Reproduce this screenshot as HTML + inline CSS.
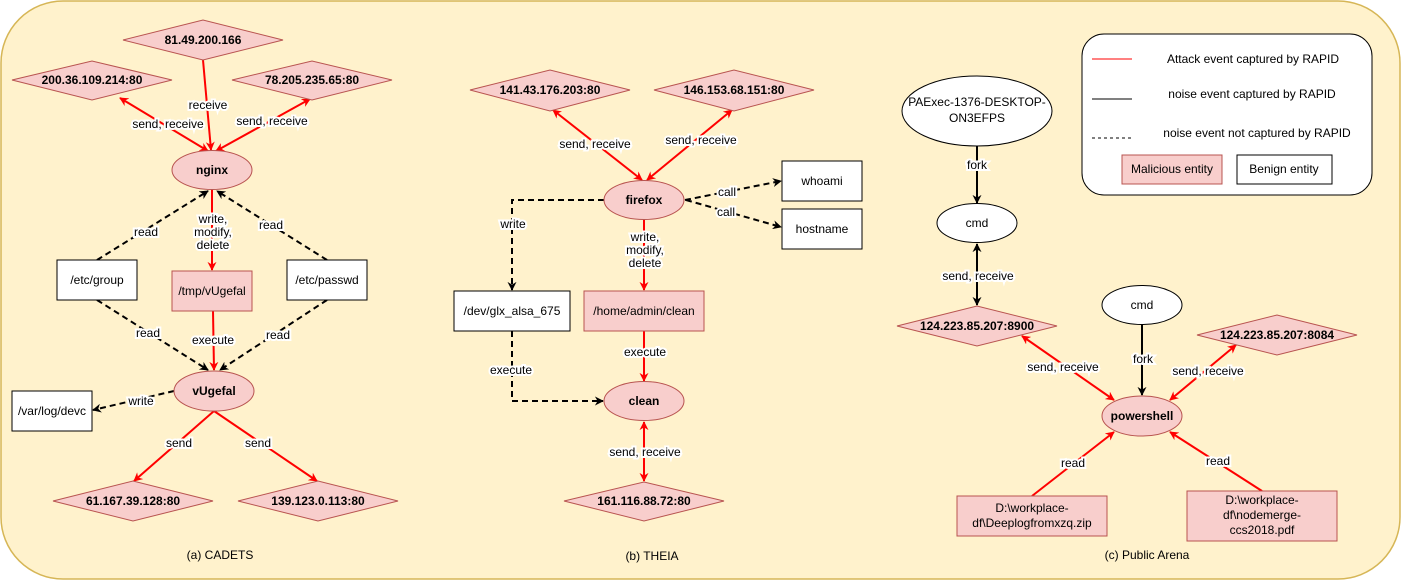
<!DOCTYPE html>
<html><head><meta charset="utf-8"><style>
html,body{margin:0;padding:0;background:#fff}
svg{display:block}
text{font-family:"Liberation Sans",sans-serif;font-size:12px;fill:#000}
.b{font-weight:bold}
.lbl{paint-order:stroke;stroke:#fff;stroke-width:4px;stroke-linejoin:miter}
</style></head><body>
<svg width="1402" height="582" viewBox="0 0 1402 582" xmlns="http://www.w3.org/2000/svg">
<defs>
<marker id="ar" viewBox="0 0 10 10" refX="9" refY="5" markerWidth="9" markerHeight="9" markerUnits="userSpaceOnUse" orient="auto-start-reverse"><path d="M0,0 L10,5 L0,10 L3,5 z" fill="#ff0000"/></marker>
<marker id="ak" viewBox="0 0 10 10" refX="9" refY="5" markerWidth="9" markerHeight="9" markerUnits="userSpaceOnUse" orient="auto-start-reverse"><path d="M0,0 L10,5 L0,10 L3,5 z" fill="#000"/></marker>
</defs>
<rect x="1" y="1" width="1399" height="578" rx="62" fill="#fff2cc" stroke="#d6b656" stroke-width="1.5"/>

<g stroke-width="2" fill="none">
<!-- CADETS edges -->
<line x1="203" y1="60" x2="211" y2="150" stroke="#f00" marker-end="url(#ar)"/>
<line x1="120" y1="98" x2="208" y2="151" stroke="#f00" marker-start="url(#ar)" marker-end="url(#ar)"/>
<line x1="310" y1="99" x2="216" y2="151" stroke="#f00" marker-start="url(#ar)" marker-end="url(#ar)"/>
<line x1="97" y1="260" x2="208" y2="191" stroke="#000" stroke-dasharray="6,4" marker-end="url(#ak)"/>
<line x1="327" y1="260" x2="217" y2="191" stroke="#000" stroke-dasharray="6,4" marker-end="url(#ak)"/>
<line x1="212" y1="190" x2="212" y2="270" stroke="#f00" marker-end="url(#ar)"/>
<line x1="213" y1="311" x2="214" y2="370" stroke="#f00" marker-end="url(#ar)"/>
<line x1="97" y1="300" x2="208" y2="370" stroke="#000" stroke-dasharray="6,4" marker-end="url(#ak)"/>
<line x1="327" y1="300" x2="220" y2="370" stroke="#000" stroke-dasharray="6,4" marker-end="url(#ak)"/>
<line x1="174" y1="391" x2="93" y2="410" stroke="#000" stroke-dasharray="6,4" marker-end="url(#ak)"/>
<line x1="214" y1="411" x2="134" y2="481" stroke="#f00" marker-end="url(#ar)"/>
<line x1="214" y1="411" x2="317" y2="481" stroke="#f00" marker-end="url(#ar)"/>
<!-- THEIA edges -->
<line x1="553" y1="110" x2="642" y2="180" stroke="#f00" marker-start="url(#ar)" marker-end="url(#ar)"/>
<line x1="732" y1="110" x2="647" y2="180" stroke="#f00" marker-start="url(#ar)" marker-end="url(#ar)"/>
<line x1="685" y1="200" x2="781" y2="181" stroke="#000" stroke-dasharray="6,4" marker-end="url(#ak)"/>
<line x1="686" y1="200" x2="781" y2="227" stroke="#000" stroke-dasharray="6,4" marker-end="url(#ak)"/>
<polyline points="604,200 512,200 512,290" stroke="#000" stroke-dasharray="6,4" marker-end="url(#ak)"/>
<line x1="644" y1="220" x2="644" y2="290" stroke="#f00" marker-end="url(#ar)"/>
<line x1="644" y1="331" x2="644" y2="381" stroke="#f00" marker-end="url(#ar)"/>
<polyline points="512,331 512,401 603,401" stroke="#000" stroke-dasharray="6,4" marker-end="url(#ak)"/>
<line x1="644" y1="422" x2="644" y2="481" stroke="#f00" marker-start="url(#ar)" marker-end="url(#ar)"/>
<!-- Public edges -->
<line x1="977" y1="146" x2="977" y2="203" stroke="#000" marker-end="url(#ak)"/>
<line x1="977" y1="244" x2="977" y2="305" stroke="#000" marker-start="url(#ak)" marker-end="url(#ak)"/>
<line x1="1142" y1="325" x2="1142" y2="395" stroke="#000" marker-end="url(#ak)"/>
<line x1="1022" y1="336" x2="1114" y2="400" stroke="#f00" marker-start="url(#ar)" marker-end="url(#ar)"/>
<line x1="1236" y1="345" x2="1170" y2="400" stroke="#f00" marker-start="url(#ar)" marker-end="url(#ar)"/>
<line x1="1032" y1="496" x2="1114" y2="432" stroke="#f00" marker-end="url(#ar)"/>
<line x1="1262" y1="491" x2="1170" y2="432" stroke="#f00" marker-end="url(#ar)"/>
</g>

<!-- Nodes -->
<g stroke-width="1">
<polygon points="123,40 203,20 283,40 203,60" fill="#f8cecc" stroke="#b85450"/>
<polygon points="12,80 92,61 172,80 92,100" fill="#f8cecc" stroke="#b85450"/>
<polygon points="232,80 312,61 392,80 312,100" fill="#f8cecc" stroke="#b85450"/>
<ellipse cx="212" cy="170" rx="40" ry="19.5" fill="#f8cecc" stroke="#b85450"/>
<rect x="57" y="260" width="80" height="40" fill="#fff" stroke="#000"/>
<rect x="172" y="271" width="80" height="40" fill="#f8cecc" stroke="#b85450"/>
<rect x="287" y="260" width="80" height="40" fill="#fff" stroke="#000"/>
<ellipse cx="214" cy="391" rx="40" ry="20" fill="#f8cecc" stroke="#b85450"/>
<rect x="12" y="391" width="80" height="40" fill="#fff" stroke="#000"/>
<polygon points="53,501 133,481 213,501 133,521" fill="#f8cecc" stroke="#b85450"/>
<polygon points="238,501 318,481 398,501 318,521" fill="#f8cecc" stroke="#b85450"/>

<polygon points="470,90 550,70 630,90 550,111" fill="#f8cecc" stroke="#b85450"/>
<polygon points="654,90 734,70 814,90 734,111" fill="#f8cecc" stroke="#b85450"/>
<ellipse cx="644" cy="200" rx="40" ry="19.5" fill="#f8cecc" stroke="#b85450"/>
<rect x="782" y="161" width="80" height="40" fill="#fff" stroke="#000"/>
<rect x="782" y="209" width="80" height="40" fill="#fff" stroke="#000"/>
<rect x="454" y="291" width="116" height="40" fill="#fff" stroke="#000"/>
<rect x="584" y="291" width="120" height="40" fill="#f8cecc" stroke="#b85450"/>
<ellipse cx="644" cy="401" rx="40" ry="19.5" fill="#f8cecc" stroke="#b85450"/>
<polygon points="564,501 644,482 724,501 644,521" fill="#f8cecc" stroke="#b85450"/>

<rect x="1082" y="34" width="290" height="161" rx="22" fill="#fff" stroke="#000"/>
<line x1="1092" y1="59" x2="1132" y2="59" stroke="#f00" stroke-width="1"/>
<line x1="1092" y1="99" x2="1132" y2="99" stroke="#000" stroke-width="1"/>
<line x1="1092" y1="138" x2="1132" y2="138" stroke="#000" stroke-width="1" stroke-dasharray="3,3"/>
<rect x="1122" y="155" width="100" height="29" fill="#f8cecc" stroke="#b85450"/>
<rect x="1237" y="155" width="95" height="29" fill="#fff" stroke="#000"/>

<ellipse cx="977" cy="111" rx="75" ry="35" fill="#fff" stroke="#000"/>
<ellipse cx="977" cy="223" rx="40" ry="19.5" fill="#fff" stroke="#000"/>
<polygon points="897,326 977,306 1057,326 977,346" fill="#f8cecc" stroke="#b85450"/>
<ellipse cx="1142" cy="305" rx="40" ry="19.5" fill="#fff" stroke="#000"/>
<polygon points="1197,335 1277,315 1357,335 1277,355" fill="#f8cecc" stroke="#b85450"/>
<ellipse cx="1142" cy="416" rx="40" ry="20" fill="#f8cecc" stroke="#b85450"/>
<rect x="957" y="496" width="150" height="40" fill="#f8cecc" stroke="#b85450"/>
<rect x="1187" y="491" width="150" height="50" fill="#f8cecc" stroke="#b85450"/>
</g>

<!-- Node text -->
<g text-anchor="middle" dominant-baseline="central">
<text x="203" y="40" class="b">81.49.200.166</text>
<text x="92" y="80" class="b">200.36.109.214:80</text>
<text x="312" y="80" class="b">78.205.235.65:80</text>
<text x="212" y="170" class="b">nginx</text>
<text x="97" y="280">/etc/group</text>
<text x="212" y="291">/tmp/vUgefal</text>
<text x="327" y="280">/etc/passwd</text>
<text x="214" y="391" class="b">vUgefal</text>
<text x="52" y="411">/var/log/devc</text>
<text x="133" y="501" class="b">61.167.39.128:80</text>
<text x="318" y="501" class="b">139.123.0.113:80</text>
<text x="220" y="555">(a) CADETS</text>

<text x="550" y="90" class="b">141.43.176.203:80</text>
<text x="734" y="90" class="b">146.153.68.151:80</text>
<text x="644" y="200" class="b">firefox</text>
<text x="822" y="181">whoami</text>
<text x="822" y="229">hostname</text>
<text x="512" y="311">/dev/glx_alsa_675</text>
<text x="644" y="311">/home/admin/clean</text>
<text x="644" y="401" class="b">clean</text>
<text x="644" y="501" class="b">161.116.88.72:80</text>
<text x="652" y="556">(b) THEIA</text>

<text x="1253" y="59">Attack event captured by RAPID</text>
<text x="1252" y="94">noise event captured by RAPID</text>
<text x="1257" y="133">noise event not captured by RAPID</text>
<text x="1172" y="169">Malicious entity</text>
<text x="1284" y="169">Benign entity</text>
<text x="977" y="102">PAExec-1376-DESKTOP-</text>
<text x="977" y="118">ON3EFPS</text>
<text x="977" y="223">cmd</text>
<text x="977" y="326" class="b">124.223.85.207:8900</text>
<text x="1142" y="305">cmd</text>
<text x="1277" y="335" class="b">124.223.85.207:8084</text>
<text x="1142" y="416" class="b">powershell</text>
<text x="1032" y="508">D:\workplace-</text>
<text x="1032" y="523">df\Deeplogfromxzq.zip</text>
<text x="1262" y="500">D:\workplace-</text>
<text x="1262" y="515">df\nodemerge-</text>
<text x="1262" y="530">ccs2018.pdf</text>
<text x="1147" y="555">(c) Public Arena</text>
</g>

<!-- Edge labels -->
<g text-anchor="middle" dominant-baseline="central" font-size="11">
<text class="lbl" x="208" y="105" font-size="11">receive</text>
<text class="lbl" x="168" y="124" font-size="11">send, receive</text>
<text class="lbl" x="272" y="121" font-size="11">send, receive</text>
<text class="lbl" x="146" y="232" font-size="11">read</text>
<text class="lbl" x="271" y="225" font-size="11">read</text>
<text class="lbl" x="213" y="219" font-size="11">write,</text>
<text class="lbl" x="213" y="232" font-size="11">modify,</text>
<text class="lbl" x="213" y="245" font-size="11">delete</text>
<text class="lbl" x="148" y="333" font-size="11">read</text>
<text class="lbl" x="213" y="340" font-size="11">execute</text>
<text class="lbl" x="278" y="335" font-size="11">read</text>
<text class="lbl" x="141" y="401" font-size="11">write</text>
<text class="lbl" x="179" y="443" font-size="11">send</text>
<text class="lbl" x="258" y="443" font-size="11">send</text>

<text class="lbl" x="595" y="144" font-size="11">send, receive</text>
<text class="lbl" x="701" y="140" font-size="11">send, receive</text>
<text class="lbl" x="727" y="192" font-size="11">call</text>
<text class="lbl" x="726" y="212" font-size="11">call</text>
<text class="lbl" x="513" y="224" font-size="11">write</text>
<text class="lbl" x="645" y="237" font-size="11">write,</text>
<text class="lbl" x="645" y="250" font-size="11">modify,</text>
<text class="lbl" x="645" y="263" font-size="11">delete</text>
<text class="lbl" x="645" y="352" font-size="11">execute</text>
<text class="lbl" x="511" y="370" font-size="11">execute</text>
<text class="lbl" x="645" y="452" font-size="11">send, receive</text>

<text class="lbl" x="977" y="165" font-size="11">fork</text>
<text class="lbl" x="978" y="276" font-size="11">send, receive</text>
<text class="lbl" x="1143" y="359" font-size="11">fork</text>
<text class="lbl" x="1063" y="367" font-size="11">send, receive</text>
<text class="lbl" x="1208" y="371" font-size="11">send, receive</text>
<text class="lbl" x="1073" y="463" font-size="11">read</text>
<text class="lbl" x="1218" y="461" font-size="11">read</text>
</g>
</svg>
</body></html>
